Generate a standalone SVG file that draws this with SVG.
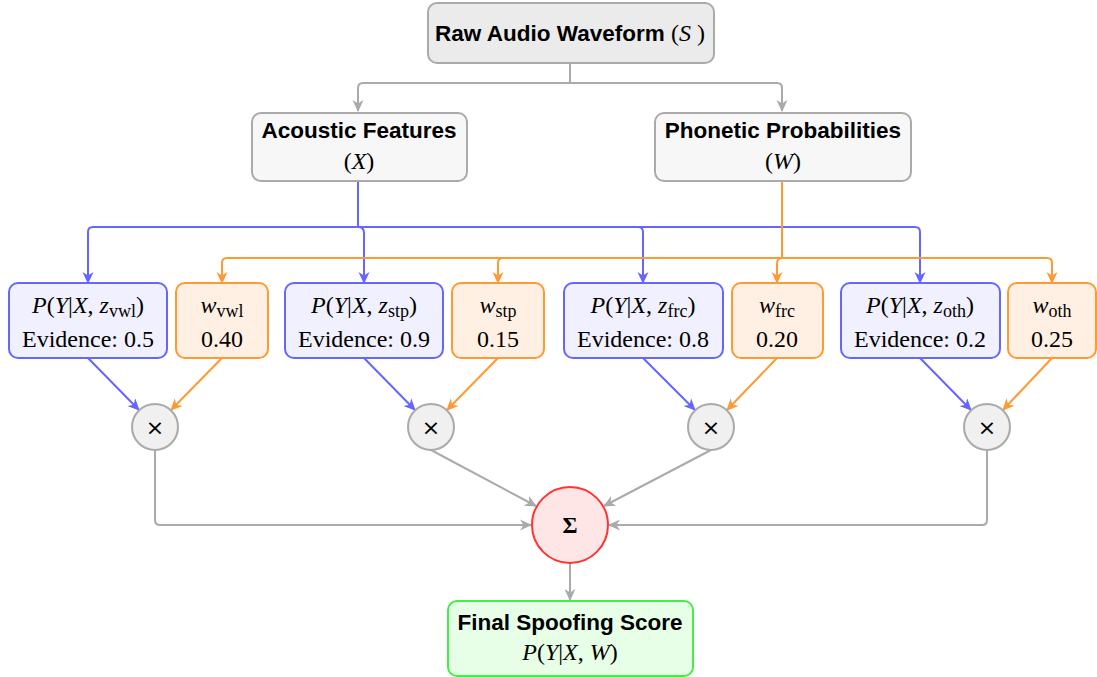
<svg xmlns="http://www.w3.org/2000/svg" width="1097" height="677" viewBox="0 0 1097 677">
<style>
.title{font-family:"Liberation Sans",Arial,sans-serif;font-weight:bold;font-size:22.5px;fill:#000;text-anchor:middle}
.m{font-family:"Liberation Serif","Times New Roman",serif;font-size:24px;fill:#000;text-anchor:middle}
.i{font-style:italic}
.sub{font-size:18px}
.x{font-family:"DejaVu Sans",sans-serif;font-size:22px;fill:#000;text-anchor:middle}
.gbox{fill:#f7f7f7;stroke:#aaaaaa;stroke-width:2}
.bbox{fill:#f0f0ff;stroke:#6666ff;stroke-width:2}
.obox{fill:#fff0e3;stroke:#ff9933;stroke-width:2}
.mul{fill:#f0f0f0;stroke:#aaaaaa;stroke-width:2}
.cg{fill:none;stroke:#aaaaaa;stroke-width:2;marker-end:url(#ag)}
.cb{fill:none;stroke:#6666ff;stroke-width:2;marker-end:url(#ab)}
.co{fill:none;stroke:#ff9933;stroke-width:2;marker-end:url(#ao)}
</style>
<defs>
<marker id="ag" markerUnits="userSpaceOnUse" markerWidth="12" markerHeight="12" viewBox="0 0 12 12" refX="11" refY="6" orient="auto"><path d="M0,0.5 L12,6 L0,11.5 L3.5,6 z" fill="#aaaaaa"/></marker>
<marker id="ab" markerUnits="userSpaceOnUse" markerWidth="12" markerHeight="12" viewBox="0 0 12 12" refX="11" refY="6" orient="auto"><path d="M0,0.5 L12,6 L0,11.5 L3.5,6 z" fill="#6666ff"/></marker>
<marker id="ao" markerUnits="userSpaceOnUse" markerWidth="12" markerHeight="12" viewBox="0 0 12 12" refX="11" refY="6" orient="auto"><path d="M0,0.5 L12,6 L0,11.5 L3.5,6 z" fill="#ff9933"/></marker>
</defs>

<g id="connectors">
<path class="cg" d="M570,63 V83 H363 Q358,83 358,88 V111"/>
<path class="cg" d="M570,63 V83 H777 Q782,83 782,88 V111"/>
<path class="cb" d="M358,181 V227 H93 Q88,227 88,232 V283"/>
<path class="cb" d="M358,181 V227 Q364,227 364,233 V283"/>
<path class="cb" d="M358,181 V227 H638 Q643,227 643,232 V283"/>
<path class="cb" d="M358,181 V227 H915 Q920,227 920,232 V283"/>
<path class="co" d="M782,181 V258 H227 Q222,258 222,263 V283"/>
<path class="co" d="M782,181 V258 H503 Q498,258 498,263 V283"/>
<path class="co" d="M782,181 V258 Q777,258 777,264 V283"/>
<path class="co" d="M782,181 V258 H1047 Q1052,258 1052,263 V283"/>
<path class="cb" d="M88,358 L139,410"/>
<path class="co" d="M222,358 L171,410"/>
<path class="cb" d="M364,358 L415,410"/>
<path class="co" d="M498,358 L447,410"/>
<path class="cb" d="M643,358 L695,410"/>
<path class="co" d="M777,358 L727,410"/>
<path class="cb" d="M920,358 L971,410"/>
<path class="co" d="M1052,358 L1003,410"/>
<path class="cg" d="M155,450 V520 Q155,525 160,525 H531"/>
<path class="cg" d="M431,450 L536,506"/>
<path class="cg" d="M711,450 L604,506"/>
<path class="cg" d="M987,450 V520 Q987,525 982,525 H609"/>
<path class="cg" d="M570,563 V600"/>
</g>

<g id="raw">
<rect x="428" y="3" width="286" height="60" rx="9" fill="#ebebeb" stroke="#aaaaaa" stroke-width="2"/>
<text x="570" y="41" class="title">Raw Audio Waveform <tspan class="m" style="font-weight:normal">(<tspan class="i">S</tspan> )</tspan></text>
</g>
<g id="acoustic">
<rect x="252" y="113" width="215" height="68" rx="9" class="gbox"/>
<text x="359" y="138" class="title">Acoustic Features</text>
<text x="359" y="169" class="m">(<tspan class="i">X</tspan>)</text>
</g>
<g id="phonetic">
<rect x="655" y="113" width="256" height="68" rx="9" class="gbox"/>
<text x="783" y="138" class="title">Phonetic Probabilities</text>
<text x="783" y="169" class="m">(<tspan class="i">W</tspan>)</text>
</g>

<g id="p_vwl">
<rect x="9" y="283" width="158" height="75" rx="9" class="bbox"/>
<text x="88" y="313" class="m"><tspan class="i">P</tspan>(<tspan class="i">Y</tspan>|<tspan class="i">X</tspan>, <tspan class="i">z</tspan><tspan class="sub" dy="4">vwl</tspan><tspan dy="-4">)</tspan></text>
<text x="88" y="347" class="m">Evidence: 0.5</text>
</g>
<g id="w_vwl">
<rect x="176" y="283" width="92" height="75" rx="9" class="obox"/>
<text x="222" y="313" class="m"><tspan class="i">w</tspan><tspan class="sub" dy="4">vwl</tspan></text>
<text x="222" y="347" class="m">0.40</text>
</g>
<g id="p_stp">
<rect x="285" y="283" width="158" height="75" rx="9" class="bbox"/>
<text x="364" y="313" class="m"><tspan class="i">P</tspan>(<tspan class="i">Y</tspan>|<tspan class="i">X</tspan>, <tspan class="i">z</tspan><tspan class="sub" dy="4">stp</tspan><tspan dy="-4">)</tspan></text>
<text x="364" y="347" class="m">Evidence: 0.9</text>
</g>
<g id="w_stp">
<rect x="452" y="283" width="92" height="75" rx="9" class="obox"/>
<text x="498" y="313" class="m"><tspan class="i">w</tspan><tspan class="sub" dy="4">stp</tspan></text>
<text x="498" y="347" class="m">0.15</text>
</g>
<g id="p_frc">
<rect x="564" y="283" width="159" height="75" rx="9" class="bbox"/>
<text x="643" y="313" class="m"><tspan class="i">P</tspan>(<tspan class="i">Y</tspan>|<tspan class="i">X</tspan>, <tspan class="i">z</tspan><tspan class="sub" dy="4">frc</tspan><tspan dy="-4">)</tspan></text>
<text x="643" y="347" class="m">Evidence: 0.8</text>
</g>
<g id="w_frc">
<rect x="732" y="283" width="91" height="75" rx="9" class="obox"/>
<text x="777" y="313" class="m"><tspan class="i">w</tspan><tspan class="sub" dy="4">frc</tspan></text>
<text x="777" y="347" class="m">0.20</text>
</g>
<g id="p_oth">
<rect x="841" y="283" width="159" height="75" rx="9" class="bbox"/>
<text x="920" y="313" class="m"><tspan class="i">P</tspan>(<tspan class="i">Y</tspan>|<tspan class="i">X</tspan>, <tspan class="i">z</tspan><tspan class="sub" dy="4">oth</tspan><tspan dy="-4">)</tspan></text>
<text x="920" y="347" class="m">Evidence: 0.2</text>
</g>
<g id="w_oth">
<rect x="1008" y="283" width="88" height="75" rx="9" class="obox"/>
<text x="1052" y="313" class="m"><tspan class="i">w</tspan><tspan class="sub" dy="4">oth</tspan></text>
<text x="1052" y="347" class="m">0.25</text>
</g>

<g id="mul_vwl"><circle cx="155" cy="427" r="23" class="mul"/><text x="155" y="435" class="x">×</text></g>
<g id="mul_stp"><circle cx="431" cy="427" r="23" class="mul"/><text x="431" y="435" class="x">×</text></g>
<g id="mul_frc"><circle cx="711" cy="427" r="23" class="mul"/><text x="711" y="435" class="x">×</text></g>
<g id="mul_oth"><circle cx="987" cy="427" r="23" class="mul"/><text x="987" y="435" class="x">×</text></g>

<g id="sum">
<circle cx="570" cy="525" r="38" fill="#ffe6e6" stroke="#ff3333" stroke-width="2"/>
<text x="570" y="533" class="m" style="font-weight:bold;font-size:23px">Σ</text>
</g>

<g id="final">
<rect x="448" y="601" width="245" height="75" rx="9" fill="#e6ffe6" stroke="#44ee44" stroke-width="2"/>
<text x="570" y="630" class="title">Final Spoofing Score</text>
<text x="570" y="660" class="m"><tspan class="i">P</tspan>(<tspan class="i">Y</tspan>|<tspan class="i">X</tspan>, <tspan class="i">W</tspan>)</text>
</g>
</svg>
